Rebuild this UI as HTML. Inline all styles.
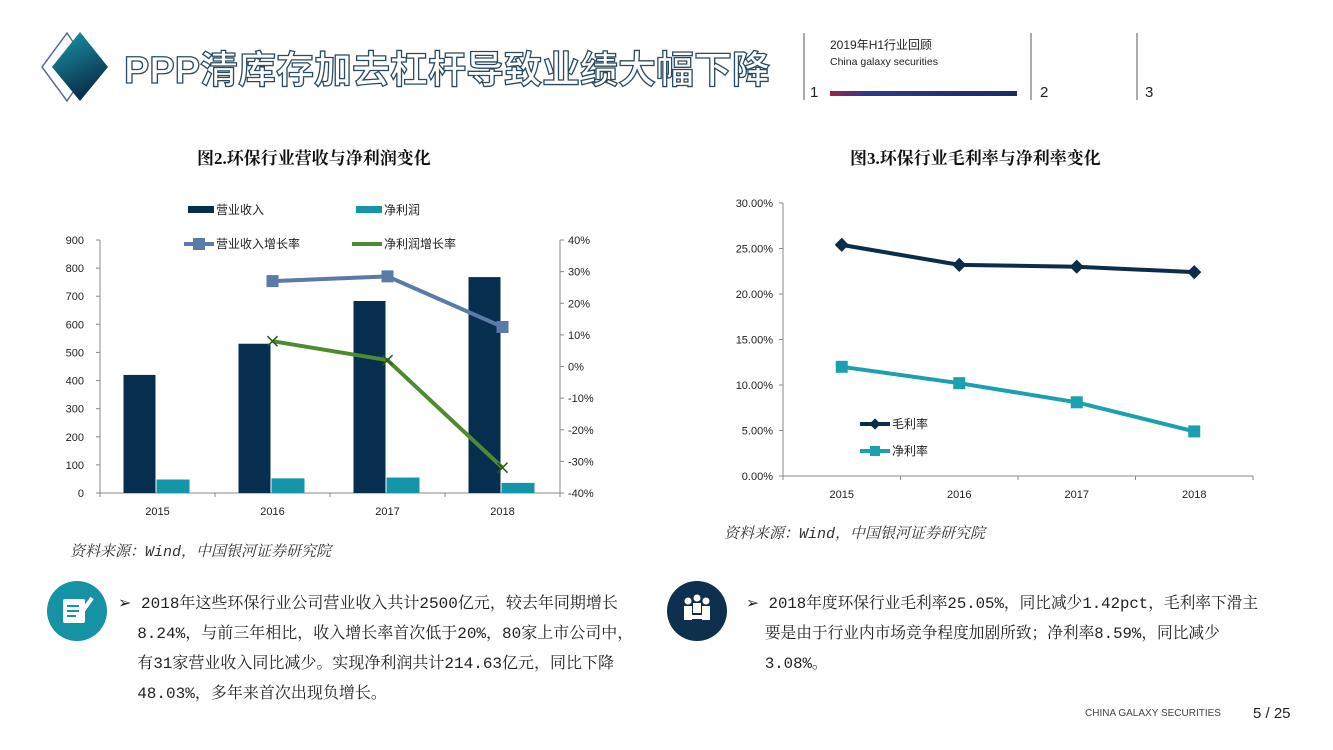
<!DOCTYPE html>
<html><head><meta charset="utf-8"><style>
body{margin:0;width:1333px;height:750px;background:#fff;overflow:hidden;position:relative;font-family:"Liberation Sans","Noto Sans CJK SC",sans-serif}
.abs{position:absolute}
.title{left:124px;top:39px;font-size:38px;font-weight:bold;color:#fff;-webkit-text-stroke:1.3px #2a4a62;letter-spacing:0px;font-family:"Liberation Sans","Noto Sans CJK SC",sans-serif;white-space:nowrap}
.ct{font-size:17px;font-weight:bold;color:#111;font-family:"Liberation Serif","Noto Serif CJK SC",serif}
.src{font-size:15px;font-style:italic;color:#333;font-family:"Liberation Mono","Noto Serif CJK SC",serif}
.para{font-size:16px;line-height:30px;color:#222;font-family:"Liberation Mono","Noto Serif CJK SC",serif;white-space:nowrap}
svg text{font-family:"Liberation Sans","Noto Sans CJK SC",sans-serif}
</style></head><body>
<svg class="abs" style="left:0;top:0" width="1333" height="750">
<defs><linearGradient id="dg" x1="0" y1="0" x2="0.4" y2="1"><stop offset="0" stop-color="#1a9aa8"/><stop offset="1" stop-color="#0b2d4c"/></linearGradient>
<linearGradient id="bar" x1="0" x2="1"><stop offset="0" stop-color="#a02050"/><stop offset="0.2" stop-color="#2a3a8a"/><stop offset="1" stop-color="#1a2a6a"/></linearGradient></defs>
<polygon points="42,67 67,33 90,67 67,101" fill="none" stroke="#5a6e8a" stroke-width="1.5"/>
<polygon points="52,67 80,32 108,67 80,101" fill="url(#dg)"/>
<line x1="804" y1="33" x2="804" y2="100" stroke="#555"/>
<line x1="1031" y1="33" x2="1031" y2="100" stroke="#555"/>
<line x1="1137" y1="33" x2="1137" y2="100" stroke="#555"/>
<rect x="830" y="91" width="187" height="5" fill="url(#bar)"/>
<text x="830" y="49" font-size="12" fill="#222">2019年H1行业回顾</text>
<text x="830" y="65" font-size="10.5" fill="#222">China galaxy securities</text>
<text x="810" y="97" font-size="15" fill="#222">1</text>
<text x="1040" y="97" font-size="15" fill="#222">2</text>
<text x="1145" y="97" font-size="15" fill="#222">3</text>
<circle cx="77" cy="611" r="30" fill="#1592a3"/>
<rect x="63" y="599" width="22" height="24" fill="#fff" rx="2"/>
<line x1="67" y1="606" x2="79" y2="606" stroke="#1592a3" stroke-width="2"/>
<line x1="67" y1="611" x2="79" y2="611" stroke="#1592a3" stroke-width="2"/>
<line x1="67" y1="616" x2="76" y2="616" stroke="#1592a3" stroke-width="2"/>
<line x1="78" y1="618" x2="92" y2="598" stroke="#fff" stroke-width="4"/>
<circle cx="697" cy="611" r="30" fill="#0e2f4e"/>
<circle cx="688" cy="601" r="3.5" fill="#fff"/><circle cx="697" cy="598" r="3.5" fill="#fff"/><circle cx="706" cy="601" r="3.5" fill="#fff"/>
<rect x="684" y="606" width="8" height="14" fill="#fff"/><rect x="693" y="603" width="8" height="10" fill="#fff"/><rect x="702" y="606" width="8" height="14" fill="#fff"/>
<rect x="688" y="615" width="18" height="4" fill="#fff"/>
<text x="1085" y="716" font-size="10" fill="#444">CHINA GALAXY SECURITIES</text>
<text x="1253" y="718" font-size="15" fill="#222">5  /  25</text>
</svg>
<div class="abs title">PPP清库存加去杠杆导致业绩大幅下降</div>
<div class="abs ct" style="left:197px;top:144px">图2.环保行业营收与净利润变化</div>
<div class="abs ct" style="left:850px;top:144px">图3.环保行业毛利率与净利率变化</div>
<div class="abs src" style="left:70px;top:540px">资料来源：Wind，中国银河证券研究院</div>
<div class="abs src" style="left:724px;top:522px">资料来源：Wind，中国银河证券研究院</div>
<div class="abs para" style="left:118px;top:589px;width:520px">➢ 2018年这些环保行业公司营业收入共计2500亿元，较去年同期增长<br>&nbsp;&nbsp;8.24%，与前三年相比，收入增长率首次低于20%，80家上市公司中，<br>&nbsp;&nbsp;有31家营业收入同比减少。实现净利润共计214.63亿元，同比下降<br>&nbsp;&nbsp;48.03%，多年来首次出现负增长。</div>
<div class="abs para" style="left:746px;top:589px;width:540px;font-size:15.7px">➢ 2018年度环保行业毛利率25.05%，同比减少1.42pct，毛利率下滑主<br>&nbsp;&nbsp;要是由于行业内市场竞争程度加剧所致；净利率8.59%，同比减少<br>&nbsp;&nbsp;3.08%。</div>
<svg id="c2" class="abs" style="left:0;top:0" width="1333" height="750"></svg>
<svg id="c3" class="abs" style="left:0;top:0" width="1333" height="750"></svg>
<script>
const years=["2015","2016","2017","2018"];
const revenue=[420,531,683,768];
const netProfit=[48,52,55,36];
const revGrowth=[null,27,28.5,12.5];
const npGrowth=[null,8,2,-32];
const leftTicks=[0,100,200,300,400,500,600,700,800,900];
const rightTicks=[-40,-30,-20,-10,0,10,20,30,40];
const grossMargin=[25.4,23.2,23.0,22.4];
const netMargin=[12.0,10.2,8.1,4.9];
const marginTicks=[0,5,10,15,20,25,30];
const NS="http://www.w3.org/2000/svg";
function mk(p,t,a,txt){const e=document.createElementNS(NS,t);for(const k in a)e.setAttribute(k,a[k]);if(txt!==undefined)e.textContent=txt;p.appendChild(e);return e;}
(function(){
const s=document.getElementById('c2');
const x0=100,x1=560,yT=240,yB=493,cw=(x1-x0)/4;
const yL=v=>yB-(v/900)*(yB-yT);
const yR=v=>yB-((v+40)/80)*(yB-yT);
const xc=i=>x0+cw*(i+0.5);
const g=mk(s,'g',{});
mk(g,'line',{x1:x0,y1:yT,x2:x0,y2:yB,stroke:'#888'});
mk(g,'line',{x1:x1,y1:yT,x2:x1,y2:yB,stroke:'#888'});
mk(g,'line',{x1:x0,y1:yB,x2:x1,y2:yB,stroke:'#888'});
leftTicks.forEach(v=>{mk(g,'line',{x1:x0-4,y1:yL(v),x2:x0,y2:yL(v),stroke:'#888'});const t=mk(g,'text',{x:x0-16,y:yL(v)+4,'font-size':11,'text-anchor':'end',fill:'#222'},v);});
rightTicks.forEach(v=>{mk(g,'line',{x1:x1,y1:yR(v),x2:x1+4,y2:yR(v),stroke:'#888'});mk(g,'text',{x:x1+8,y:yR(v)+4,'font-size':11,fill:'#222'},v+'%');});
for(let i=0;i<=4;i++)mk(g,'line',{x1:x0+cw*i,y1:yB,x2:x0+cw*i,y2:yB+4,stroke:'#888'});
years.forEach((y,i)=>{mk(g,'text',{x:xc(i),y:yB+22,'font-size':11,'text-anchor':'middle',fill:'#222'},y);
const b=mk(g,'rect',{x:xc(i)-34,y:yL(revenue[i]),width:32,height:yB-yL(revenue[i]),fill:'#062f4f'});

const n=mk(g,'rect',{x:xc(i)-1,y:yL(netProfit[i]),width:33,height:yB-yL(netProfit[i]),fill:'#1496a8'});
});
let p1=[],p2=[];
revGrowth.forEach((v,i)=>{if(v!==null)p1.push(xc(i)+',' +yR(v));});
npGrowth.forEach((v,i)=>{if(v!==null)p2.push(xc(i)+','+yR(v));});
const l1=mk(g,'polyline',{points:p1.join(' '),fill:'none',stroke:'#5a7aa8','stroke-width':4});

const l2=mk(g,'polyline',{points:p2.join(' '),fill:'none',stroke:'#4e8a30','stroke-width':4});

revGrowth.forEach((v,i)=>{if(v!==null)mk(g,'rect',{x:xc(i)-6,y:yR(v)-6,width:12,height:12,fill:'#5a7aa8'});});
npGrowth.forEach((v,i)=>{if(v!==null){const X=xc(i),Y=yR(v);mk(g,'path',{d:`M${X-5},${Y-5}L${X+5},${Y+5}M${X-5},${Y+5}L${X+5},${Y-5}`,stroke:'#2a5a1a','stroke-width':1.5});}});
mk(g,'rect',{x:188,y:206,width:26,height:7,fill:'#062f4f'});mk(g,'text',{x:216,y:214,'font-size':12,fill:'#222'},'营业收入');
mk(g,'rect',{x:356,y:206,width:26,height:7,fill:'#1496a8'});mk(g,'text',{x:384,y:214,'font-size':12,fill:'#222'},'净利润');
mk(g,'line',{x1:184,y1:244,x2:214,y2:244,stroke:'#5a7aa8','stroke-width':4});mk(g,'rect',{x:193,y:238,width:12,height:12,fill:'#5a7aa8'});mk(g,'text',{x:216,y:248,'font-size':12,fill:'#222'},'营业收入增长率');
mk(g,'line',{x1:352,y1:244,x2:382,y2:244,stroke:'#4e8a30','stroke-width':4});mk(g,'text',{x:384,y:248,'font-size':12,fill:'#222'},'净利润增长率');
})();
(function(){
const s=document.getElementById('c3');
const x0=783,x1=1253,yT=203,yB=476,cw=(x1-x0)/4;
const y=v=>yB-(v/30)*(yB-yT);
const xc=i=>x0+cw*(i+0.5);
const g=mk(s,'g',{});
mk(g,'line',{x1:x0,y1:yT,x2:x0,y2:yB,stroke:'#888'});
mk(g,'line',{x1:x0,y1:yB,x2:x1,y2:yB,stroke:'#888'});
marginTicks.forEach(v=>{mk(g,'line',{x1:x0-4,y1:y(v),x2:x0,y2:y(v),stroke:'#888'});mk(g,'text',{x:x0-10,y:y(v)+4,'font-size':11,'text-anchor':'end',fill:'#222'},v.toFixed(2)+'%');});
for(let i=0;i<=4;i++)mk(g,'line',{x1:x0+cw*i,y1:yB,x2:x0+cw*i,y2:yB+4,stroke:'#888'});
years.forEach((t,i)=>mk(g,'text',{x:xc(i),y:yB+22,'font-size':11,'text-anchor':'middle',fill:'#222'},t));
const l1=mk(g,'polyline',{points:grossMargin.map((v,i)=>xc(i)+','+y(v)).join(' '),fill:'none',stroke:'#0b2d4c','stroke-width':4});

const l2=mk(g,'polyline',{points:netMargin.map((v,i)=>xc(i)+','+y(v)).join(' '),fill:'none',stroke:'#1aa0b0','stroke-width':4});

grossMargin.forEach((v,i)=>mk(g,'rect',{x:xc(i)-5,y:y(v)-5,width:10,height:10,fill:'#0b2d4c',transform:`rotate(45 ${xc(i)} ${y(v)})`}));
netMargin.forEach((v,i)=>mk(g,'rect',{x:xc(i)-6,y:y(v)-6,width:12,height:12,fill:'#1aa0b0'}));
mk(g,'line',{x1:860,y1:424,x2:890,y2:424,stroke:'#0b2d4c','stroke-width':4});mk(g,'rect',{x:871,y:420,width:8,height:8,fill:'#0b2d4c',transform:'rotate(45 875 424)'});mk(g,'text',{x:892,y:428,'font-size':12,fill:'#222'},'毛利率');
mk(g,'line',{x1:860,y1:451,x2:890,y2:451,stroke:'#1aa0b0','stroke-width':4});mk(g,'rect',{x:870,y:446,width:10,height:10,fill:'#1aa0b0'});mk(g,'text',{x:892,y:455,'font-size':12,fill:'#222'},'净利率');
})();
</script>
</body></html>
